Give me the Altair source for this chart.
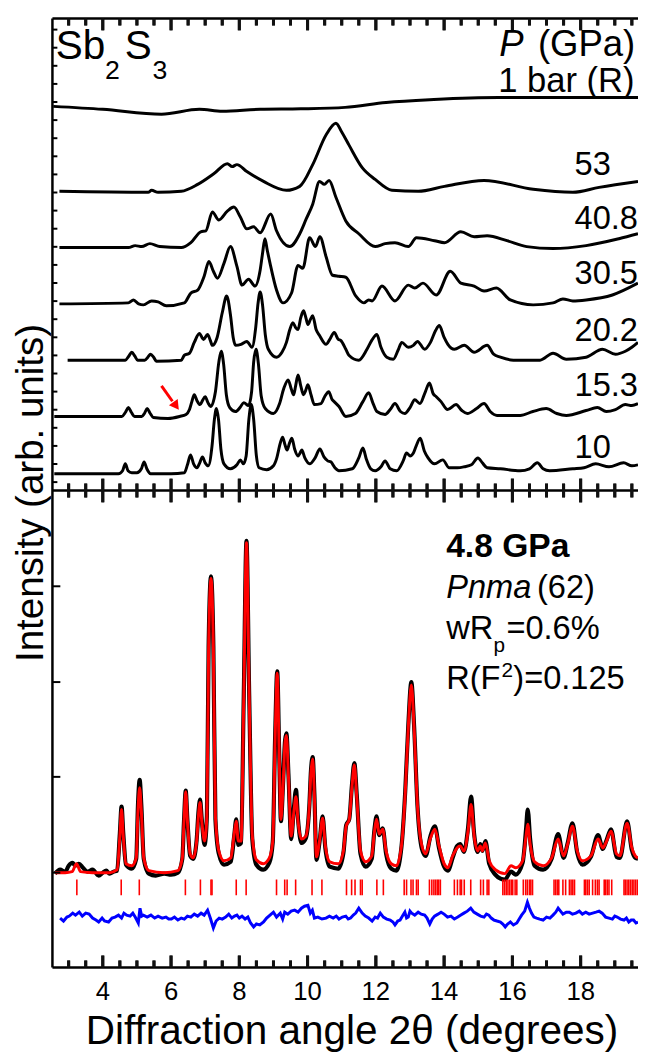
import altair as alt
import pandas as pd

# ---------------- data ----------------
# x: diffraction angle 2theta (degrees); y: intensity (arb. units, stacked)
X_MIN, X_MAX = 2.525, 19.68
TOP_H, BOT_H = 478, 483            # heights of the two panels in intensity units
TOP_BASE = BOT_H                   # top panel starts above the lower one

# upper panel patterns (intensity above the panel divider)
pat_1bar = [(2.55, 389), (4.0, 386), (5.72, 381), (6.83, 386), (7.5, 384), (8.61, 386),
            (9.8, 386.5), (11.1, 388), (12.3, 393), (13.7, 396), (15.6, 398), (19.68, 398)]
pat_53 = [(2.73, 303), (5.33, 302), (5.43, 304), (5.62, 302), (6.30, 303), (6.78, 310),
          (7.26, 321), (7.65, 331), (7.79, 328), (7.93, 330), (8.22, 323), (8.71, 313),
          (9.38, 304), (9.77, 308), (10.15, 330), (10.54, 360), (10.83, 372), (11.0, 363),
          (11.21, 350), (11.60, 327), (11.98, 315), (12.47, 304), (13.24, 303), (14.01, 308),
          (15.17, 314), (16.61, 305), (17.77, 302), (18.54, 307), (19.68, 313)]
pat_40_8 = [(2.73, 246), (4.75, 246), (4.95, 248), (5.14, 247), (5.38, 250), (5.67, 247),
            (6.30, 246), (6.58, 251), (6.87, 262), (7.02, 263), (7.21, 282), (7.40, 274),
            (7.65, 283), (7.84, 287), (8.03, 277), (8.22, 265), (8.42, 267), (8.61, 261),
            (8.92, 280), (9.09, 263), (9.48, 247), (9.77, 260), (9.96, 275), (10.15, 290),
            (10.35, 313), (10.49, 310), (10.63, 314), (10.83, 297), (11.12, 273), (11.50, 260),
            (11.98, 247), (12.27, 250), (12.56, 251), (12.95, 247), (13.19, 256), (13.72, 253),
            (14.01, 251), (14.49, 262), (14.88, 257), (15.26, 258), (15.84, 253), (16.42, 247),
            (17.19, 245), (18.16, 248), (19.12, 255), (19.68, 260)]
pat_30_5 = [(2.73, 189), (4.75, 190), (4.90, 193), (5.05, 189), (5.19, 188), (5.43, 192),
            (5.62, 191), (5.86, 187), (6.39, 190), (6.58, 200), (6.78, 203), (6.97, 217),
            (7.11, 232), (7.24, 222), (7.36, 215), (7.55, 230), (7.74, 247), (7.93, 227),
            (8.08, 208), (8.27, 214), (8.46, 207), (8.61, 223), (8.68, 240), (8.75, 255),
            (8.82, 243), (8.90, 230), (9.09, 203), (9.28, 190), (9.53, 200), (9.72, 228),
            (9.86, 225), (10.06, 256), (10.23, 247), (10.36, 257), (10.54, 237), (10.73, 218),
            (10.92, 217), (11.12, 216), (11.41, 197), (11.65, 190), (11.79, 193), (11.89, 192),
            (12.18, 207), (12.56, 192), (12.95, 208), (13.14, 205), (13.38, 210), (13.77, 198),
            (14.18, 222), (14.49, 210), (14.88, 207), (15.17, 202), (15.53, 205), (15.94, 193),
            (16.61, 188), (17.19, 190), (17.48, 194), (17.77, 192), (18.16, 193), (18.93, 198),
            (19.68, 210)]
pat_20_2 = [(2.97, 132), (4.0, 132), (4.66, 132), (4.76, 136), (4.85, 140), (4.94, 136),
            (5.02, 132), (5.23, 132), (5.32, 135), (5.40, 138), (5.49, 135), (5.57, 131),
            (6.30, 132), (6.39, 137), (6.54, 139), (6.68, 150), (6.83, 159), (6.95, 153),
            (7.07, 158), (7.15, 152), (7.21, 147), (7.35, 155), (7.5, 180), (7.63, 197),
            (7.74, 178), (7.82, 155), (7.89, 147), (8.05, 148), (8.22, 151), (8.37, 145),
            (8.48, 165), (8.55, 190), (8.61, 201), (8.68, 188), (8.76, 158), (8.85, 143),
            (9.09, 135), (9.25, 140), (9.38, 150), (9.48, 163), (9.57, 170), (9.65, 165),
            (9.72, 163), (9.8, 175), (9.88, 182), (9.95, 175), (10.01, 168), (10.08, 173),
            (10.15, 177), (10.25, 163), (10.35, 157), (10.54, 148), (10.65, 153), (10.78, 160),
            (10.9, 153), (10.97, 152), (11.12, 143), (11.21, 137), (11.50, 132), (11.74, 143),
            (11.88, 152), (12.03, 158), (12.15, 145), (12.32, 135), (12.51, 133), (12.65, 142),
            (12.76, 150), (12.95, 145), (13.1, 147), (13.22, 151), (13.43, 143), (13.6, 150),
            (13.75, 162), (13.86, 167), (14.0, 155), (14.11, 148), (14.30, 143), (14.59, 147),
            (14.88, 140), (15.26, 147), (15.45, 138), (15.65, 135), (16.03, 132), (16.81, 132),
            (17.19, 139), (17.58, 133), (18.16, 135), (18.64, 143), (19.02, 138), (19.31, 141),
            (19.5, 145), (19.68, 150)]
pat_15_3 = [(2.58, 75), (4.0, 75), (4.56, 75), (4.66, 79), (4.75, 84), (4.84, 79), (4.93, 75),
            (5.14, 75), (5.22, 78), (5.30, 83), (5.39, 78), (5.48, 74), (5.91, 73), (6.25, 75),
            (6.44, 77), (6.54, 82), (6.61, 90), (6.68, 97), (6.76, 91), (6.85, 87), (6.92, 91),
            (7.00, 95), (7.08, 89), (7.16, 85), (7.3, 100), (7.4, 130), (7.47, 141), (7.54, 128),
            (7.62, 97), (7.72, 84), (7.89, 80), (8.02, 84), (8.13, 89), (8.27, 86), (8.36, 100),
            (8.42, 130), (8.49, 143), (8.56, 128), (8.64, 96), (8.76, 83), (9.00, 78), (9.18, 88),
            (9.3, 103), (9.43, 112), (9.52, 103), (9.59, 97), (9.65, 106), (9.72, 117), (9.8, 106),
            (9.88, 97), (9.94, 101), (10.01, 107), (10.1, 97), (10.2, 87), (10.39, 88), (10.5, 95),
            (10.62, 100), (10.72, 92), (10.78, 90), (10.92, 85), (11.12, 75), (11.4, 78),
            (11.62, 90), (11.79, 99), (11.92, 88), (12.03, 80), (12.27, 77), (12.42, 82),
            (12.56, 88), (12.72, 80), (12.85, 78), (13.0, 84), (13.14, 92), (13.29, 88),
            (13.45, 100), (13.57, 109), (13.68, 98), (13.77, 95), (13.91, 90), (14.1, 82),
            (14.35, 87), (14.52, 81), (14.68, 78), (14.95, 83), (15.17, 88), (15.35, 80),
            (15.55, 76), (16.23, 76), (16.6, 80), (16.99, 83), (17.3, 78), (17.58, 76),
            (18.16, 81), (18.49, 84), (18.75, 80), (19.02, 82), (19.31, 87), (19.5, 86),
            (19.68, 88)]
pat_10 = [(2.58, 17), (3.5, 17), (4.46, 17), (4.58, 20), (4.66, 27), (4.74, 20), (4.85, 18),
          (5.0, 18), (5.13, 22), (5.21, 29), (5.29, 22), (5.4, 17), (6.0, 17), (6.39, 18),
          (6.48, 26), (6.57, 36), (6.66, 27), (6.76, 23), (6.84, 28), (6.92, 34), (7.0, 28),
          (7.09, 25), (7.2, 45), (7.27, 72), (7.33, 83), (7.39, 72), (7.46, 42), (7.55, 27),
          (7.74, 22), (7.93, 26), (8.03, 31), (8.12, 27), (8.2, 35), (8.28, 72), (8.35, 87),
          (8.42, 72), (8.5, 35), (8.58, 23), (8.80, 21), (9.0, 25), (9.09, 32), (9.2, 48),
          (9.27, 54), (9.34, 46), (9.40, 41), (9.47, 48), (9.54, 53), (9.62, 42), (9.72, 35),
          (9.78, 38), (9.83, 41), (9.92, 33), (10.06, 27), (10.22, 33), (10.36, 42), (10.48, 34),
          (10.59, 30), (10.68, 29), (10.8, 23), (10.92, 20), (11.31, 22), (11.5, 33), (11.62, 43),
          (11.72, 32), (11.85, 22), (11.98, 20), (12.15, 24), (12.27, 30), (12.42, 22),
          (12.61, 20), (12.8, 30), (12.90, 38), (13.0, 35), (13.1, 38), (13.18, 45), (13.30, 53),
          (13.42, 40), (13.53, 33), (13.72, 27), (13.96, 31), (14.15, 23), (14.39, 23),
          (14.59, 24), (14.8, 26), (14.99, 33), (15.12, 28), (15.26, 23), (15.65, 22),
          (16.23, 20), (16.5, 22), (16.73, 28), (16.9, 22), (17.09, 20), (17.77, 22),
          (18.1, 23), (18.44, 27), (18.83, 24), (19.26, 28), (19.5, 25), (19.68, 26)]

top_patterns = {"1 bar (R)": pat_1bar, "53": pat_53, "40.8": pat_40_8, "30.5": pat_30_5,
                "20.2": pat_20_2, "15.3": pat_15_3, "10": pat_10}

pressure_labels = ["53", "40.8", "30.5", "20.2", "15.3", "10"]
pressure_label_y = [330, 275, 219, 161, 106, 43]
pressure_label_x = 17.82

# red arrow at 15.3 GPa (tail, shaft end, head centre) in upper-panel units
arrow_shaft = [(5.72, 106), (6.04, 90.4)]
arrow_head = (6.147, 85.6)

# lower panel: 4.8 GPa Rietveld refinement
obs_48 = [(2.6, 95), (2.75, 99), (2.9, 97), (3.0, 103), (3.11, 106), (3.2, 103), (3.3, 105),
          (3.42, 101), (3.55, 97), (3.7, 99), (3.88, 93), (4.0, 96), (4.1, 98), (4.2, 95),
          (4.32, 97), (4.42, 98), (4.5, 136), (4.55, 163), (4.6, 136), (4.68, 104), (4.85, 100),
          (4.98, 110), (5.03, 164), (5.08, 190), (5.13, 164), (5.2, 110), (5.35, 95), (5.55, 93),
          (5.8, 95), (6.0, 94), (6.2, 96), (6.33, 110), (6.38, 149), (6.43, 179), (6.48, 149),
          (6.56, 113), (6.65, 110), (6.75, 129), (6.8, 156), (6.85, 170), (6.9, 150), (6.98, 124),
          (7.05, 153), (7.1, 325), (7.17, 396), (7.24, 325), (7.3, 150), (7.4, 115), (7.55, 104),
          (7.75, 107), (7.85, 133), (7.91, 150), (7.97, 124), (8.05, 126), (8.13, 275),
          (8.21, 432), (8.29, 275), (8.38, 130), (8.5, 104), (8.7, 99), (8.88, 106), (8.98, 127),
          (9.05, 235), (9.11, 300), (9.17, 215), (9.22, 148), (9.28, 185), (9.34, 230),
          (9.38, 237), (9.44, 195), (9.52, 130), (9.6, 162), (9.66, 180), (9.72, 150),
          (9.82, 126), (9.95, 131), (10.05, 163), (10.1, 200), (10.15, 213), (10.2, 175),
          (10.26, 109), (10.35, 127), (10.44, 153), (10.52, 121), (10.65, 102), (10.9, 100),
          (11.05, 116), (11.13, 144), (11.22, 150), (11.3, 185), (11.37, 207), (11.44, 175),
          (11.55, 115), (11.7, 102), (11.88, 110), (11.96, 140), (12.02, 153), (12.1, 134),
          (12.2, 141), (12.3, 115), (12.45, 100), (12.6, 98), (12.75, 122), (12.86, 178),
          (12.95, 245), (13.04, 289), (13.12, 245), (13.22, 163), (13.35, 120), (13.46, 113),
          (13.6, 133), (13.73, 143), (13.85, 121), (14.0, 102), (14.11, 98), (14.25, 111),
          (14.38, 123), (14.47, 125), (14.58, 117), (14.7, 141), (14.79, 173), (14.88, 135),
          (14.98, 117), (15.06, 125), (15.12, 118), (15.21, 128), (15.32, 105), (15.5, 94),
          (15.65, 90), (15.78, 89), (15.96, 97), (16.1, 94), (16.3, 106), (16.4, 140),
          (16.45, 160), (16.52, 130), (16.65, 103), (16.9, 99), (17.15, 110), (17.34, 135),
          (17.5, 111), (17.62, 126), (17.76, 146), (17.9, 116), (18.05, 104), (18.3, 112),
          (18.51, 134), (18.65, 120), (18.75, 128), (18.89, 140), (19.05, 112), (19.15, 111),
          (19.36, 148), (19.5, 119), (19.6, 111), (19.68, 110)]
calc_48 = [(2.6, 96), (2.9, 96), (3.1, 97), (3.23, 105), (3.35, 97), (3.7, 96), (4.2, 96),
           (4.42, 99), (4.5, 133), (4.55, 160), (4.6, 133), (4.68, 105), (4.85, 103), (4.98, 111),
           (5.03, 158), (5.08, 182), (5.13, 158), (5.2, 111), (5.35, 98), (5.8, 96), (6.2, 98),
           (6.33, 111), (6.38, 148), (6.43, 178), (6.48, 148), (6.56, 115), (6.65, 111),
           (6.75, 128), (6.8, 153), (6.85, 167), (6.9, 148), (6.98, 128), (7.05, 153), (7.1, 323),
           (7.17, 394), (7.24, 323), (7.3, 153), (7.4, 118), (7.55, 108), (7.75, 111), (7.85, 135),
           (7.91, 148), (7.97, 128), (8.05, 128), (8.13, 273), (8.21, 430), (8.29, 273),
           (8.38, 133), (8.5, 109), (8.7, 105), (8.88, 111), (8.98, 128), (9.05, 233), (9.11, 298),
           (9.17, 213), (9.22, 150), (9.28, 183), (9.34, 228), (9.38, 235), (9.44, 193),
           (9.52, 133), (9.6, 158), (9.66, 173), (9.72, 148), (9.82, 130), (9.95, 133),
           (10.05, 163), (10.1, 198), (10.15, 211), (10.2, 173), (10.26, 112), (10.35, 128),
           (10.44, 151), (10.52, 123), (10.65, 107), (10.9, 105), (11.05, 118), (11.13, 143),
           (11.22, 150), (11.3, 183), (11.37, 205), (11.44, 173), (11.55, 118), (11.7, 107),
           (11.88, 113), (11.96, 138), (12.02, 150), (12.1, 135), (12.2, 140), (12.3, 118),
           (12.45, 105), (12.6, 103), (12.75, 123), (12.86, 176), (12.95, 243), (13.04, 286),
           (13.12, 243), (13.22, 163), (13.35, 123), (13.46, 115), (13.6, 131), (13.73, 140),
           (13.85, 123), (14.0, 105), (14.11, 101), (14.25, 113), (14.38, 121), (14.47, 123),
           (14.58, 118), (14.7, 138), (14.79, 165), (14.88, 133), (14.98, 118), (15.06, 123),
           (15.12, 118), (15.21, 126), (15.32, 108), (15.5, 99), (15.78, 95), (15.96, 103),
           (16.1, 101), (16.3, 108), (16.4, 133), (16.45, 145), (16.52, 125), (16.65, 107),
           (16.9, 103), (17.15, 111), (17.34, 130), (17.5, 113), (17.62, 125), (17.76, 143),
           (17.9, 118), (18.05, 108), (18.3, 113), (18.51, 130), (18.65, 121), (18.75, 127),
           (18.89, 138), (19.05, 115), (19.15, 113), (19.36, 146), (19.5, 121), (19.6, 113),
           (19.68, 111)]
diff_48 = [(2.75, 50), (2.85, 47), (2.95, 51), (3.02, 52), (3.12, 55), (3.2, 53), (3.31, 56),
           (3.4, 52), (3.5, 55), (3.60, 54), (3.7, 50), (3.8, 48), (3.88, 46), (3.98, 50),
           (4.05, 47), (4.17, 46), (4.27, 50), (4.36, 51), (4.46, 53), (4.55, 50), (4.62, 55),
           (4.70, 53), (4.8, 52), (4.88, 55), (4.95, 51), (5.04, 45), (5.09, 60), (5.14, 52),
           (5.19, 53), (5.3, 51), (5.41, 53), (5.52, 50), (5.62, 52), (5.74, 50), (5.85, 51),
           (5.93, 49), (6.01, 49), (6.1, 51), (6.2, 48), (6.3, 50), (6.39, 49), (6.48, 52),
           (6.58, 51), (6.68, 54), (6.78, 52), (6.88, 55), (6.97, 53), (7.07, 58), (7.15, 50),
           (7.24, 40), (7.32, 47), (7.41, 50), (7.50, 49), (7.6, 51), (7.69, 54), (7.78, 50),
           (7.86, 52), (7.93, 53), (8.0, 50), (8.08, 52), (8.17, 49), (8.25, 51), (8.33, 45),
           (8.42, 41), (8.5, 44), (8.6, 43), (8.71, 46), (8.8, 50), (8.9, 53), (9.0, 56),
           (9.09, 51), (9.2, 55), (9.27, 49), (9.33, 56), (9.42, 54), (9.52, 57), (9.62, 58),
           (9.72, 56), (9.82, 60), (9.91, 62), (10.01, 63), (10.08, 55), (10.14, 58), (10.20, 50),
           (10.3, 51), (10.42, 49), (10.54, 50), (10.64, 52), (10.75, 50), (10.84, 52),
           (10.92, 49), (11.02, 51), (11.12, 52), (11.19, 49), (11.26, 50), (11.34, 53),
           (11.41, 55), (11.50, 60), (11.6, 55), (11.69, 52), (11.79, 50), (11.89, 47),
           (11.98, 51), (12.05, 50), (12.13, 55), (12.22, 51), (12.32, 49), (12.42, 48),
           (12.5, 46), (12.56, 43), (12.64, 47), (12.71, 48), (12.78, 52), (12.85, 56),
           (12.9, 50), (12.95, 51), (13.0, 57), (13.05, 55), (13.14, 53), (13.24, 56),
           (13.33, 54), (13.43, 53), (13.5, 50), (13.58, 44), (13.65, 49), (13.72, 52),
           (13.82, 54), (13.91, 56), (14.0, 54), (14.10, 51), (14.2, 52), (14.30, 49), (14.4, 51),
           (14.49, 53), (14.58, 55), (14.68, 57), (14.78, 60), (14.87, 56), (14.97, 54),
           (15.07, 52), (15.17, 51), (15.24, 54), (15.31, 53), (15.38, 50), (15.46, 48),
           (15.55, 47), (15.65, 46), (15.72, 44), (15.79, 41), (15.86, 44), (15.94, 46),
           (16.03, 43), (16.13, 45), (16.2, 49), (16.27, 53), (16.36, 57), (16.44, 66),
           (16.5, 60), (16.56, 55), (16.63, 51), (16.71, 50), (16.8, 49), (16.90, 48), (17.0, 51),
           (17.1, 50), (17.19, 53), (17.27, 56), (17.34, 60), (17.41, 57), (17.48, 54),
           (17.58, 56), (17.67, 56), (17.76, 54), (17.86, 55), (17.96, 57), (18.05, 54),
           (18.15, 56), (18.25, 54), (18.35, 55), (18.45, 56), (18.54, 57), (18.63, 55),
           (18.73, 51), (18.83, 50), (18.93, 49), (19.0, 52), (19.07, 51), (19.17, 49),
           (19.27, 48), (19.34, 50), (19.41, 46), (19.48, 48), (19.55, 48), (19.62, 45),
           (19.68, 46)]
reflections = [3.24, 4.54, 5.07, 6.42, 6.86, 7.17, 7.20, 7.91, 8.20, 9.09, 9.33, 9.40, 9.65,
               10.13, 10.42, 11.14, 11.29, 11.39, 11.55, 11.60, 12.03, 12.22, 12.83, 12.90,
               13.03, 13.09, 13.19, 13.24, 13.57, 13.64, 13.70, 13.75, 13.80, 13.84, 13.89,
               14.30, 14.39, 14.47, 14.51, 14.59, 14.78, 15.07, 15.15, 15.26, 15.31, 15.72,
               15.77, 15.82, 15.87, 15.92, 15.97, 16.01, 16.08, 16.13, 16.32, 16.39, 16.44,
               16.50, 16.54, 16.59, 17.22, 17.27, 17.32, 17.36, 17.48, 17.56, 17.67, 17.72,
               17.77, 17.82, 18.11, 18.15, 18.20, 18.25, 18.35, 18.43, 18.49, 18.54, 18.69,
               18.73, 18.78, 18.83, 18.91, 19.27, 19.31, 19.36, 19.41, 19.46, 19.51, 19.56,
               19.61, 19.66]
REFL_LO, REFL_HI = 73, 89

x_major = [4.0, 6.0, 8.0, 10.0, 12.0, 14.0, 16.0, 18.0]
x_major_labels = ["4", "6", "8", "10", "12", "14", "16", "18"]
x_minor = [3.0, 3.5, 4.5, 5.0, 5.5, 6.5, 7.0, 7.5, 8.5, 9.0, 9.5, 10.5, 11.0, 11.5, 12.5,
           13.0, 13.5, 14.5, 15.0, 15.5, 16.5, 17.0, 17.5, 18.5, 19.0, 19.5]
y_ticks_top = [491.5 + 18.33 * i for i in range(26)]
y_ticks_bottom = [96, 193, 289, 386]

X_TITLE = "Diffraction angle 2θ (degrees)"
Y_TITLE = "Intensity (arb. units)"

# ---------------- chart ----------------
W, H = 593, TOP_H + BOT_H
PX_PER_DEG = W / (X_MAX - X_MIN)
FONT = "Liberation Sans"
xs = alt.Scale(domain=[X_MIN, X_MAX], nice=False, zero=False)
ys = alt.Scale(domain=[0, H], nice=False, zero=False)


def enc_x():
    return alt.X("x:Q", scale=xs, axis=None)


def enc_y():
    return alt.Y("y:Q", scale=ys, axis=None)


top_df = pd.DataFrame([{"s": k, "x": x, "y": y + TOP_BASE}
                       for k, pts in top_patterns.items() for x, y in pts])
top_lines = alt.Chart(top_df).mark_line(
    color="black", strokeWidth=3, interpolate="monotone", clip=True
).encode(x=enc_x(), y=enc_y(), detail="s:N")

arrow_df = pd.DataFrame([{"x": x, "y": y + TOP_BASE} for x, y in arrow_shaft])
arrow_line = alt.Chart(arrow_df).mark_line(color="#ff0000", strokeWidth=3).encode(
    x=enc_x(), y=enc_y())
arrow_tip = alt.Chart(pd.DataFrame({"x": [arrow_head[0]], "y": [arrow_head[1] + TOP_BASE]})
                      ).mark_point(shape="triangle-up", size=120, angle=144, filled=True,
                                   color="#ff0000", opacity=1).encode(x=enc_x(), y=enc_y())

obs_line = alt.Chart(pd.DataFrame(obs_48, columns=["x", "y"])).mark_line(
    color="black", strokeWidth=4.2, interpolate="monotone", clip=True).encode(x=enc_x(), y=enc_y())
calc_line = alt.Chart(pd.DataFrame(calc_48, columns=["x", "y"])).mark_line(
    color="#ff0000", strokeWidth=3, interpolate="monotone", clip=True).encode(x=enc_x(), y=enc_y())
diff_line = alt.Chart(pd.DataFrame(diff_48, columns=["x", "y"])).mark_line(
    color="#0000ff", strokeWidth=3, clip=True).encode(x=enc_x(), y=enc_y())
refl_rules = alt.Chart(pd.DataFrame({"x": reflections, "y": REFL_LO, "y2": REFL_HI})).mark_rule(
    color="#ff0000", strokeWidth=1.6, clip=True).encode(x=enc_x(), y=enc_y(), y2="y2:Q")

# frame: top, divider, bottom and left lines
frame_h = pd.DataFrame({"x": X_MIN, "x2": X_MAX, "y": [float(H), float(TOP_BASE), 0.0]})
frame_h_rules = alt.Chart(frame_h).mark_rule(color="black", strokeWidth=2.5).encode(
    x=enc_x(), x2="x2:Q", y=enc_y())
frame_v = pd.DataFrame({"x": [X_MIN], "y": [0.0], "y2": [float(H)]})
frame_v_rule = alt.Chart(frame_v).mark_rule(color="black", strokeWidth=2.5).encode(
    x=enc_x(), y=enc_y(), y2="y2:Q")

# inward tick marks along the frame and the panel divider
MINOR_LEN, MAJOR_LEN = 7, 12
half_w = 1.5 / PX_PER_DEG
xt_rows = []
for vals, ln in ((x_minor, MINOR_LEN), (x_major, MAJOR_LEN)):
    for v in vals:
        for lo, hi in ((H - ln, H), (TOP_BASE - ln, TOP_BASE + ln), (0, ln)):
            xt_rows.append({"x": v - half_w, "x2": v + half_w, "xc": v, "y": lo, "y2": hi})
xt_df = pd.DataFrame(xt_rows)
xtick_bars = alt.Chart(xt_df).mark_rect(color="#111111").encode(
    x=enc_x(), x2="x2:Q", y=enc_y(), y2="y2:Q")
xtick_lines = alt.Chart(xt_df).mark_rule(color="#111111", strokeWidth=3, clip=True).encode(
    x=alt.X("xc:Q", scale=xs, axis=None), y=enc_y(), y2="y2:Q")

yt_rows = ([{"y": v, "x": X_MIN, "x2": X_MIN + 5 / PX_PER_DEG} for v in y_ticks_top]
           + [{"y": v, "x": X_MIN, "x2": X_MIN + 8 / PX_PER_DEG} for v in y_ticks_bottom])
ytick_rules = alt.Chart(pd.DataFrame(yt_rows)).mark_rule(color="black", strokeWidth=2).encode(
    x=enc_x(), x2="x2:Q", y=enc_y())

# tick labels below the bottom frame
xlab_df = pd.DataFrame({"x": x_major, "y": -25.0, "t": x_major_labels})
xlab_text = alt.Chart(xlab_df).mark_text(font=FONT, fontSize=26, align="center",
                                         baseline="middle", color="black").encode(
    x=enc_x(), y=enc_y(), text="t:N")

press_df = pd.DataFrame({"x": pressure_label_x, "y": [v + TOP_BASE for v in pressure_label_y],
                         "t": pressure_labels})
press_text = alt.Chart(press_df).mark_text(font=FONT, fontSize=33, align="left",
                                           baseline="middle", color="black").encode(
    x=enc_x(), y=enc_y(), text="t:N")


def label(text, x, y, size, dx=0, dy=0, align="left", weight="normal", style="normal",
          angle=0):
    df = pd.DataFrame({"x": [x], "y": [y], "t": [text]})
    return alt.Chart(df).mark_text(font=FONT, fontSize=size, dx=dx, dy=dy, align=align,
                                   baseline="alphabetic", fontWeight=weight, fontStyle=style,
                                   angle=angle, color="black").encode(
        x=enc_x(), y=enc_y(), text="t:N")


ANN_X = 14.06
labels = [
    label("Sb", 2.62, 437 + TOP_BASE, 41),
    label("2", 2.62, 437 + TOP_BASE, 27, dx=50, dy=20),
    label("S", 2.62, 437 + TOP_BASE, 41, dx=70),
    label("3", 2.62, 437 + TOP_BASE, 27, dx=98, dy=20),
    label("(GPa)", 19.6, 440 + TOP_BASE, 37, align="right"),
    label("P", 19.6, 440 + TOP_BASE, 37, dx=-113, align="right", style="italic"),
    label("1 bar (R)", 19.58, 404 + TOP_BASE, 35, align="right"),
    label("4.8 GPa", ANN_X, 416, 34, weight="bold"),
    label("Pnma", ANN_X, 374, 33, style="italic"),
    label("(62)", ANN_X, 374, 33, dx=92),
    label("wR", ANN_X, 333, 33),
    label("p", ANN_X, 333, 21, dx=48, dy=14),
    label("=0.6%", ANN_X, 333, 33, dx=61),
    label("R(F", ANN_X, 282, 33),
    label("2", ANN_X, 282, 21, dx=56, dy=-12),
    label(")=0.125", ANN_X, 282, 33, dx=68),
    label(X_TITLE, 11.3, -78, 41, align="center"),
    label(Y_TITLE, X_MIN - 10 / PX_PER_DEG, 480.5, 39, align="center", angle=270),
]

chart = alt.layer(
    top_lines, arrow_line, arrow_tip, obs_line, calc_line, refl_rules, diff_line,
    frame_h_rules, frame_v_rule, xtick_bars, xtick_lines, ytick_rules, xlab_text, press_text,
    *labels
).properties(
    width=W, height=H,
    autosize=alt.AutoSizeParams(type="none"),
    padding={"left": 45, "top": 4, "right": 0, "bottom": 79},
).configure_view(stroke=None)

chart.save("out.html", embed_options={"renderer": "svg", "actions": False})
